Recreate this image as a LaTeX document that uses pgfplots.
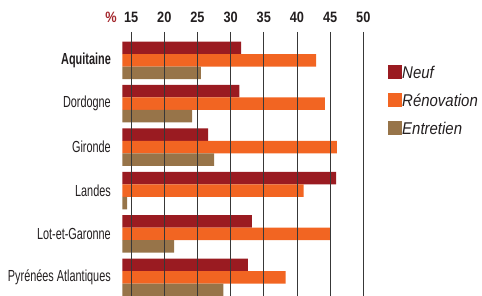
\documentclass[border=0pt]{standalone}
\usepackage{pgfplots}
\pgfplotsset{compat=1.18}
\usepackage{fontspec}
\setmainfont{Liberation Sans}
\newfontfamily\catfont[FakeStretch=0.68]{Liberation Sans}
\newfontfamily\tickfont[FakeStretch=0.85]{Liberation Sans}
\newfontfamily\legfont[FakeStretch=0.88]{Liberation Sans}
\definecolor{neuf}{HTML}{9A1B21}
\definecolor{renov}{HTML}{F26522}
\definecolor{entr}{HTML}{977449}
\definecolor{pct}{HTML}{A3262C}
\definecolor{txt}{HTML}{231F20}
\begin{document}
\begin{tikzpicture}
\path[use as bounding box] (-122.5pt,0pt) rectangle (359.5pt,296pt);
\begin{axis}[
  name=ax,
  at={(0pt,0pt)}, anchor=south west,
  width=240.8pt, height=264pt, scale only axis,
  xbar, bar width=12.5pt,
  xmin=13.7, xmax=50, ymin=-0.652, ymax=5.43, y dir=reverse,
  xtick={15,20,...,50},
  xticklabel pos=upper,
  ytick={0,1,2,3,4,5},
  yticklabels={\textbf{Aquitaine},Dordogne,Gironde,Landes,Lot-et-Garonne,Pyrénées Atlantiques},
  axis line style={draw=none},
  major tick length=0pt,
  xmajorgrids, grid style={draw=black!78, line width=0.8pt},
  axis on top,
  /pgf/number format/assume math mode=true,
  xticklabel style={font=\tickfont\bfseries\fontsize{15}{15}\selectfont, text=txt, anchor=base, inner sep=0pt, yshift=9.3pt},
  yticklabel style={font=\catfont\fontsize{16}{16}\selectfont, text=txt, anchor=east, inner sep=0pt, xshift=-11.5pt},
  legend style={at={(1.1026,0.875)}, anchor=north west, draw=none, fill=none, inner sep=0pt,
    row sep=14pt, font=\legfont\itshape\fontsize{17}{17}\selectfont, text=txt,
    nodes={inner sep=0pt, text height=12pt, text depth=0pt},
    /tikz/every even column/.append style={column sep=6pt}},
  legend cell align=left,
  legend image code/.code={\fill[#1,draw=none] (0pt,-7pt) rectangle (14pt,7pt);},
]
\addplot[fill=neuf, draw=none, bar shift=12.5pt] coordinates {(31.6,0) (31.3,1) (26.6,2) (45.9,3) (33.2,4) (32.6,5)};
\addplot[fill=renov, draw=none, bar shift=0pt] coordinates {(42.9,0) (44.2,1) (46.0,2) (41.0,3) (45.0,4) (38.3,5)};
\addplot[fill=entr, draw=none, bar shift=-12.5pt] coordinates {(25.5,0) (24.2,1) (27.5,2) (14.4,3) (21.5,4) (28.9,5)};
\legend{Neuf,Rénovation,Entretien}
\end{axis}
\node[anchor=base, inner sep=0pt, text=pct, font=\tickfont\bfseries\fontsize{15}{15}\selectfont] at ([xshift=-11.5pt,yshift=9.3pt]ax.north west) {\%};
\end{tikzpicture}
\end{document}
